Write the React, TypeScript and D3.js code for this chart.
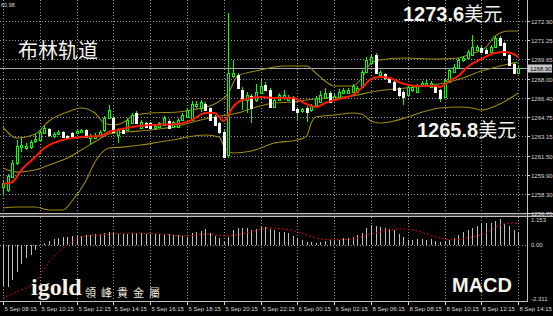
import React, { useEffect } from "react";
import * as d3 from "d3";

const W = 553;
const H = 316;

const timeLabels = [
  "5 Sep 08:15", "5 Sep 10:15", "5 Sep 12:15", "5 Sep 14:15", "5 Sep 16:15",
  "5 Sep 18:15", "5 Sep 20:15", "5 Sep 22:15", "6 Sep 00:15", "6 Sep 02:15",
  "8 Sep 06:15", "8 Sep 08:15", "8 Sep 10:15", "8 Sep 12:15", "8 Sep 14:15",
];
const barsPerLabel = 8;
const priceTicks = [1272.9, 1271.25, 1269.65, 1268.0, 1266.4, 1264.75, 1263.15, 1261.5, 1259.9, 1258.3, 1256.7];
const macdTicks = [1.153, 0, -2.311];
const bidPrice = 1268.9;

const opens = [
  1258.85, 1258.60, 1259.69, 1260.87, 1262.22, 1262.14, 1262.22, 1262.73, 1262.82, 1263.41,
  1263.74, 1263.15, 1263.32, 1263.49, 1263.15, 1263.41, 1263.41, 1263.49, 1263.66, 1262.98,
  1262.98, 1263.24, 1263.66, 1264.67, 1264.67, 1263.24, 1263.66, 1263.66, 1264.25, 1265.09,
  1263.83, 1264.25, 1264.25, 1263.83, 1263.91, 1264.08, 1264.42, 1263.91, 1263.91, 1264.50,
  1264.76, 1264.50, 1265.68, 1265.52, 1265.85, 1265.52, 1264.76, 1264.25, 1263.49, 1261.55,
  1268.22, 1268.30, 1267.03, 1266.19, 1266.53, 1266.19, 1266.78, 1267.46, 1267.03, 1265.60,
  1266.19, 1266.36, 1266.19, 1266.44, 1265.43, 1265.26, 1265.52, 1265.35, 1265.77, 1266.02,
  1266.36, 1266.78, 1266.19, 1266.44, 1266.78, 1266.78, 1266.87, 1266.87, 1267.29, 1268.55,
  1269.31, 1269.99, 1268.30, 1268.39, 1268.05, 1267.71, 1267.20, 1266.87, 1266.61, 1267.03,
  1266.87, 1267.46, 1267.46, 1267.29, 1267.29, 1267.03, 1266.44, 1267.71, 1268.55, 1268.89,
  1269.57, 1269.74, 1269.99, 1270.41, 1270.58, 1270.41, 1270.24, 1270.66, 1271.42, 1271.00,
  1269.99, 1269.23, 1268.47,
];
const highs = [
  1259.36, 1259.95, 1261.13, 1262.82, 1262.98, 1262.56, 1262.82, 1263.32, 1263.66, 1264.00,
  1263.83, 1263.49, 1263.66, 1263.57, 1263.24, 1263.49, 1263.74, 1263.74, 1263.74, 1263.32,
  1263.41, 1263.66, 1264.84, 1265.77, 1264.84, 1263.83, 1263.74, 1264.67, 1265.09, 1265.26,
  1264.50, 1264.33, 1264.33, 1264.17, 1264.33, 1264.84, 1264.59, 1264.42, 1264.67, 1265.09,
  1265.52, 1266.11, 1266.11, 1266.19, 1266.02, 1265.60, 1264.93, 1264.33, 1263.66, 1273.53,
  1269.57, 1268.47, 1267.29, 1266.87, 1266.70, 1267.54, 1267.88, 1267.71, 1267.20, 1266.36,
  1266.78, 1267.03, 1266.61, 1266.53, 1265.60, 1265.52, 1265.68, 1265.85, 1266.53, 1266.95,
  1267.20, 1266.95, 1266.70, 1267.12, 1267.20, 1267.20, 1267.54, 1267.37, 1268.72, 1269.82,
  1269.99, 1270.16, 1268.72, 1268.47, 1268.13, 1267.88, 1267.29, 1267.03, 1267.46, 1267.46,
  1267.54, 1267.79, 1267.88, 1267.79, 1267.46, 1267.12, 1268.05, 1268.89, 1269.23, 1269.74,
  1269.90, 1270.41, 1271.68, 1270.83, 1270.75, 1270.58, 1270.83, 1271.59, 1271.59, 1271.09,
  1270.07, 1269.40, 1269.14,
];
const lows = [
  1258.17, 1258.43, 1259.61, 1260.71, 1261.80, 1261.97, 1262.06, 1262.56, 1262.65, 1263.32,
  1263.07, 1262.98, 1263.24, 1262.98, 1262.90, 1263.07, 1263.32, 1263.41, 1262.98, 1262.39,
  1262.90, 1263.07, 1263.49, 1264.59, 1263.41, 1262.56, 1263.32, 1263.57, 1264.17, 1264.17,
  1263.74, 1263.83, 1263.74, 1263.66, 1263.83, 1264.00, 1263.74, 1263.83, 1263.83, 1264.42,
  1264.67, 1264.42, 1265.52, 1265.18, 1265.26, 1264.42, 1264.00, 1263.32, 1261.30, 1261.30,
  1268.05, 1267.12, 1265.35, 1265.09, 1264.25, 1266.02, 1266.70, 1266.95, 1265.52, 1265.52,
  1266.11, 1266.19, 1266.11, 1265.26, 1264.50, 1265.09, 1264.33, 1265.18, 1265.68, 1265.94,
  1266.28, 1265.94, 1266.11, 1266.36, 1266.70, 1266.70, 1266.78, 1266.78, 1267.20, 1268.47,
  1269.14, 1268.39, 1268.22, 1267.88, 1267.63, 1266.95, 1266.44, 1265.77, 1266.44, 1266.87,
  1266.78, 1267.29, 1267.37, 1267.20, 1266.78, 1266.02, 1266.36, 1267.63, 1268.47, 1268.81,
  1269.40, 1269.65, 1269.90, 1270.33, 1270.16, 1270.07, 1270.16, 1270.58, 1270.75, 1269.90,
  1269.06, 1268.39, 1268.39,
];
const closes = [
  1259.19, 1259.78, 1260.87, 1262.31, 1262.39, 1262.31, 1262.65, 1262.90, 1263.49, 1263.83,
  1263.24, 1263.32, 1263.49, 1263.07, 1262.98, 1263.15, 1263.57, 1263.66, 1263.07, 1263.15,
  1263.15, 1263.49, 1264.67, 1265.35, 1263.49, 1263.66, 1263.41, 1264.50, 1264.93, 1264.25,
  1264.33, 1263.91, 1263.83, 1264.00, 1264.25, 1264.67, 1263.83, 1264.33, 1264.50, 1264.93,
  1265.35, 1265.85, 1265.85, 1266.02, 1265.35, 1264.50, 1264.08, 1263.49, 1261.38, 1268.47,
  1268.47, 1267.20, 1266.19, 1266.61, 1265.52, 1266.87, 1267.37, 1267.03, 1265.60, 1266.19,
  1266.61, 1266.61, 1266.44, 1265.35, 1265.18, 1265.43, 1265.18, 1265.77, 1266.36, 1266.61,
  1266.78, 1266.02, 1266.53, 1266.87, 1267.03, 1267.03, 1267.37, 1267.20, 1268.55, 1269.57,
  1269.82, 1268.47, 1268.55, 1268.05, 1267.71, 1267.03, 1266.61, 1266.44, 1267.29, 1267.29,
  1267.37, 1267.63, 1267.63, 1267.63, 1266.87, 1266.36, 1267.88, 1268.72, 1268.98, 1269.57,
  1269.74, 1270.24, 1270.66, 1270.66, 1270.24, 1270.16, 1270.66, 1271.42, 1270.83, 1269.99,
  1269.14, 1268.47, 1268.90,
];

// Bollinger bands (sampled bar index, price)
const upperIdx = [0, 3, 7, 10, 14, 17, 20, 22, 24, 27, 28, 32, 38, 41, 46, 49, 51, 56, 61, 66, 68, 70, 72, 76, 78, 80, 82, 87, 94, 99, 101, 105, 107, 110, 112];
const upperVal = [1263.91, 1262.98, 1263.32, 1264.42, 1265.18, 1265.52, 1265.09, 1264.25, 1264.08, 1264.50, 1264.84, 1265.09, 1265.18, 1265.35, 1265.85, 1266.78, 1268.22, 1268.72, 1269.06, 1269.06, 1268.47, 1267.79, 1267.37, 1267.37, 1268.05, 1269.31, 1269.57, 1269.74, 1269.65, 1269.74, 1269.99, 1270.66, 1271.59, 1272.01, 1272.01];
const middleIdx = [0, 3, 7, 10, 14, 17, 21, 23, 27, 32, 38, 42, 46, 51, 55, 59, 63, 66, 70, 76, 80, 83, 90, 96, 100, 104, 108, 112];
const middleVal = [1260.45, 1260.11, 1260.28, 1260.71, 1261.30, 1261.97, 1262.90, 1263.32, 1263.49, 1263.66, 1264.00, 1264.42, 1264.76, 1265.09, 1265.60, 1265.94, 1266.02, 1266.19, 1266.36, 1266.53, 1266.87, 1267.03, 1267.29, 1267.63, 1268.05, 1268.64, 1269.06, 1269.40];
const lowerIdx = [0, 3, 7, 10, 13, 15, 18, 20, 23, 26, 30, 34, 38, 40, 44, 47, 48, 50, 54, 59, 64, 66, 67, 68, 72, 76, 78, 80, 82, 85, 88, 92, 95, 99, 102, 104, 107, 110, 112];
const lowerVal = [1257.08, 1257.16, 1257.16, 1256.91, 1256.91, 1257.67, 1259.36, 1260.96, 1262.14, 1262.22, 1262.39, 1262.65, 1262.90, 1263.07, 1263.24, 1263.07, 1262.31, 1261.72, 1261.89, 1262.56, 1262.82, 1263.15, 1264.25, 1264.76, 1264.93, 1265.09, 1265.01, 1264.42, 1264.25, 1264.42, 1264.76, 1265.26, 1265.52, 1265.60, 1265.52, 1265.35, 1265.68, 1266.28, 1266.78];
// Red moving average
const maIdx = [0, 2, 4, 7, 9, 11, 13, 17, 21, 23, 25, 28, 32, 38, 41, 44, 46, 48, 50, 52, 56, 59, 63, 66, 68, 70, 73, 76, 78, 80, 82, 84, 86, 90, 94, 95, 97, 99, 101, 104, 107, 109, 111, 112];
const maVal = [1259.10, 1259.27, 1260.28, 1261.38, 1262.14, 1262.56, 1262.82, 1263.07, 1263.15, 1263.49, 1263.66, 1263.91, 1264.08, 1264.17, 1264.50, 1265.09, 1265.09, 1264.42, 1265.60, 1266.19, 1266.44, 1266.36, 1266.36, 1265.85, 1265.60, 1265.94, 1266.28, 1266.61, 1267.20, 1267.96, 1268.13, 1268.05, 1267.71, 1267.37, 1267.37, 1267.29, 1267.79, 1268.22, 1268.98, 1269.65, 1270.16, 1270.24, 1270.07, 1269.82];

// MACD
const macdHist = [
  -1.70, -1.75, -1.45, -1.10, -0.80, -0.55, -0.42, -0.20, 0.05, 0.10,
  0.18, 0.25, 0.29, 0.31, 0.33, 0.35, 0.37, 0.38, 0.40, 0.41,
  0.44, 0.46, 0.48, 0.52, 0.49, 0.47, 0.46, 0.47, 0.50, 0.49,
  0.48, 0.47, 0.46, 0.45, 0.45, 0.46, 0.44, 0.43, 0.40, 0.36,
  0.33, 0.49, 0.53, 0.58, 0.66, 0.49, 0.37, 0.29, 0.12, 0.33,
  0.62, 0.70, 0.70, 0.70, 0.62, 0.66, 0.74, 0.74, 0.66, 0.62,
  0.53, 0.53, 0.49, 0.37, 0.29, 0.21, 0.12, 0.12, 0.10, 0.12,
  0.16, 0.21, 0.21, 0.21, 0.29, 0.29, 0.33, 0.41, 0.49, 0.70,
  0.82, 0.80, 0.74, 0.70, 0.66, 0.62, 0.45, 0.33, 0.21, 0.21,
  0.25, 0.25, 0.21, 0.25, 0.16, 0.12, 0.16, 0.21, 0.29, 0.41,
  0.53, 0.62, 0.70, 0.78, 0.86, 0.91, 0.91, 0.99, 1.05, 0.86,
  0.78, 0.62, 0.53,
];
const signalIdx = [0, 3, 7, 10, 14, 17, 21, 28, 34, 40, 44, 48, 53, 58, 61, 65, 68, 72, 76, 80, 83, 87, 90, 94, 98, 101, 105, 108, 111, 112];
const signalVal = [-2.2, -1.93, -1.52, -0.7, 0.0, 0.33, 0.41, 0.49, 0.45, 0.37, 0.45, 0.37, 0.49, 0.7, 0.66, 0.49, 0.29, 0.21, 0.25, 0.45, 0.58, 0.66, 0.58, 0.33, 0.21, 0.29, 0.49, 0.82, 0.91, 0.86];

const GRID = "#9a9a9a";
const FG = "#d8d8d8";
const BAND = "#9c8a12";
const AXIS_FONT = "'Liberation Sans', Arial, sans-serif";
const CJK = "'Noto Sans CJK SC', 'Noto Sans', sans-serif";

export default function App() {
  useEffect(() => {
    document.body.style.margin = "0";
    document.body.style.background = "#000";
  }, []);

  const plotRight = 527;
  const mainTop = 0;
  const mainBottom = 213;
  const subTop = 217;
  const subBottom = 301;

  const x = d3.scaleLinear().domain([0, opens.length - 1]).range([3, 3 + 4.6 * (opens.length - 1)]);
  const y = d3.scaleLinear().domain([1256.7, 1272.9]).range([212.5, 20.5]);
  const ym = d3.scaleLinear().domain([-2.311, 1.153]).range([subBottom, subTop]);

  const mkLine = (sc: d3.ScaleLinear<number, number>) =>
    d3.line<[number, number]>().x((d) => x(d[0])).y((d) => sc(d[1])).curve(d3.curveMonotoneX);
  const zip = (a: number[], b: number[]) => a.map((v, i) => [v, b[i]] as [number, number]);

  const priceLine = mkLine(y);
  const macdLine = mkLine(ym);

  const tickIdx = timeLabels.map((_, k) => k * barsPerLabel);

  return (
    <svg width={W} height={H} style={{ position: "absolute", left: 0, top: 0, background: "#000", display: "block" }}>
      <rect x={0} y={0} width={W} height={H} fill="#000" />
      <defs>
        <clipPath id="mainClip">
          <rect x={0} y={mainTop} width={plotRight} height={mainBottom - mainTop} />
        </clipPath>
        <clipPath id="subClip">
          <rect x={0} y={subTop} width={plotRight} height={subBottom - subTop} />
        </clipPath>
      </defs>

      {/* vertical grid */}
      {tickIdx.map((ti) => {
        const gx = Math.round(x(ti)) + 0.5;
        return (
          <g key={"vg" + ti} shapeRendering="crispEdges">
            <line x1={gx} x2={gx} y1={mainTop} y2={mainBottom} stroke={GRID} strokeDasharray="1,2" />
            <line x1={gx} x2={gx} y1={subTop} y2={subBottom} stroke={GRID} strokeDasharray="1,2" />
          </g>
        );
      })}
      {/* horizontal grid main */}
      {priceTicks.map((p) => {
        const gy = Math.round(y(p)) + 0.5;
        return (
          <line key={"hg" + p} x1={0} x2={plotRight} y1={gy} y2={gy} stroke={GRID} strokeDasharray="1,2" shapeRendering="crispEdges" />
        );
      })}
      {/* zero line of MACD */}
      <line x1={0} x2={plotRight} y1={Math.round(ym(0)) + 0.5} y2={Math.round(ym(0)) + 0.5} stroke={GRID} strokeDasharray="1,2" shapeRendering="crispEdges" />

      {/* bid line */}
      <line x1={0} x2={plotRight} y1={Math.round(y(bidPrice)) + 0.5} y2={Math.round(y(bidPrice)) + 0.5} stroke="#a8a8a8" shapeRendering="crispEdges" />

      {/* Bollinger bands */}
      <g clipPath="url(#mainClip)" fill="none">
        <path d={priceLine(zip(upperIdx, upperVal)) || ""} stroke={BAND} strokeWidth={1.1} />
        <path d={priceLine(zip(middleIdx, middleVal)) || ""} stroke={BAND} strokeWidth={1.1} />
        <path d={priceLine(zip(lowerIdx, lowerVal)) || ""} stroke={BAND} strokeWidth={1.1} />
      </g>

      {/* candles */}
      <g clipPath="url(#mainClip)" shapeRendering="crispEdges">
        {opens.map((o, i) => {
          const c = closes[i];
          const cx = Math.round(x(i));
          const bull = c >= o;
          const yTop = Math.round(y(Math.max(o, c)));
          const yBot = Math.round(y(Math.min(o, c)));
          return (
            <g key={"c" + i}>
              <line x1={cx + 0.5} x2={cx + 0.5} y1={y(highs[i])} y2={y(lows[i])} stroke="#00ff00" />
              <rect
                x={cx - 0.5}
                y={yTop + 0.5}
                width={2}
                height={Math.max(yBot - yTop, 0.01)}
                fill={bull ? "#000" : "#fff"}
                stroke={bull ? "#00ff00" : "#fff"}
              />
            </g>
          );
        })}
      </g>

      {/* red MA */}
      <path d={priceLine(zip(maIdx, maVal)) || ""} fill="none" stroke="#ff1a00" strokeWidth={2} clipPath="url(#mainClip)" />

      {/* MACD histogram */}
      <g clipPath="url(#subClip)" shapeRendering="crispEdges">
        {macdHist.map((v, i) => {
          const cx = Math.round(x(i)) + 0.5;
          return <line key={"m" + i} x1={cx} x2={cx} y1={ym(0)} y2={ym(v)} stroke="#c0c0c0" />;
        })}
      </g>
      <path d={macdLine(zip(signalIdx, signalVal)) || ""} fill="none" stroke="#d01010" strokeWidth={1} strokeDasharray="2,2" clipPath="url(#subClip)" />

      {/* borders / separators */}
      <g shapeRendering="crispEdges">
        <rect x={0} y={mainBottom} width={W} height={subTop - mainBottom} fill="#3a3a3a" />
        <line x1={0} x2={W} y1={mainBottom + 0.5} y2={mainBottom + 0.5} stroke="#c0c0c0" />
        <line x1={0} x2={W} y1={subTop - 0.5} y2={subTop - 0.5} stroke="#c0c0c0" />
        <line x1={plotRight + 0.5} x2={plotRight + 0.5} y1={0} y2={subBottom + 1} stroke="#c0c0c0" />
        <line x1={0} x2={plotRight + 1} y1={subBottom + 0.5} y2={subBottom + 0.5} stroke="#c0c0c0" />
      </g>

      {/* price axis labels */}
      {priceTicks.map((p) => {
        const gy = Math.round(y(p)) + 0.5;
        return (
          <g key={"pl" + p}>
            <line x1={plotRight} x2={plotRight + 3} y1={gy} y2={gy} stroke={FG} shapeRendering="crispEdges" />
            <text x={531} y={gy + 2} fontSize={6} fontFamily={AXIS_FONT} fill={FG}>
              {p.toFixed(2)}
            </text>
          </g>
        );
      })}
      {/* bid label */}
      <rect x={528} y={Math.round(y(bidPrice)) - 3.5} width={24} height={8} fill="#c8c8c8" />
      <text x={530} y={Math.round(y(bidPrice)) + 2.5} fontSize={6} fontFamily={AXIS_FONT} fill="#000">
        {bidPrice.toFixed(2)}
      </text>

      {/* MACD axis labels */}
      {macdTicks.map((v) => {
        const gy = v === 1.153 ? ym(v) + 5 : v === -2.311 ? ym(v) : ym(v) + 2;
        return (
          <text key={"ml" + v} x={531} y={gy} fontSize={6} fontFamily={AXIS_FONT} fill={FG}>
            {v === 0 ? "0.00" : v.toString()}
          </text>
        );
      })}

      {/* time axis */}
      {tickIdx.map((ti, k) => {
        const gx = Math.round(x(ti)) + 0.5;
        return (
          <g key={"tl" + ti}>
            <line x1={gx} x2={gx} y1={subBottom + 1} y2={subBottom + 4} stroke={FG} shapeRendering="crispEdges" />
            <text x={gx + 1} y={311} fontSize={6} fontFamily={AXIS_FONT} fill={FG}>
              {timeLabels[k]}
            </text>
          </g>
        );
      })}

      {/* top-left info */}
      <text x={1} y={7} fontSize={5.5} fontFamily={AXIS_FONT} fill={FG}>60.98</text>

      {/* overlays */}
      <text x={18} y={58} fontSize={20} fontFamily={CJK} fill="#f4f4ee">布林轨道</text>
      <text x={403} y={21} fill="#f4f4ee">
        <tspan fontSize={20} fontWeight="bold" fontFamily="'Liberation Sans', Arial, sans-serif">1273.6</tspan>
        <tspan fontSize={19} fontFamily={CJK}>美元</tspan>
      </text>
      <text x={417} y={137} fill="#f4f4ee">
        <tspan fontSize={20} fontWeight="bold" fontFamily="'Liberation Sans', Arial, sans-serif">1265.8</tspan>
        <tspan fontSize={19} fontFamily={CJK}>美元</tspan>
      </text>
      <text x={452} y={292} fontSize={20} fontWeight="bold" fontFamily="'Liberation Sans', Arial, sans-serif" fill="#f4f4ee">MACD</text>
      <text x={31} y={295} fontSize={24} fontWeight="bold" fontFamily="'Liberation Serif', 'DejaVu Serif', serif" fill="#f6f2e6">igold</text>
      <text x={85} y={297} fontSize={11} fontFamily="'Noto Sans CJK TC', 'Noto Sans CJK SC', sans-serif" fill="#ece6d6" letterSpacing={5}>領峰貴金屬</text>
    </svg>
  );
}
